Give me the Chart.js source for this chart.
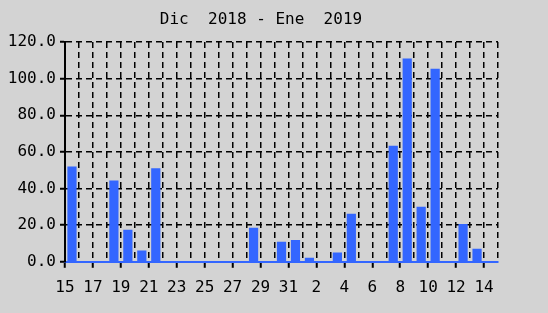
<!DOCTYPE html>
<html>
<head>
<meta charset="utf-8">
<script src="https://cdn.jsdelivr.net/npm/chart.js@4.4.1/dist/chart.umd.min.js"></script>
<style>
  html, body { margin: 0; padding: 0; background: #d3d3d3; }
  #wrap { width: 548px; height: 313px; position: relative; }
</style>
</head>
<body>
<div id="wrap"><canvas id="canvas"></canvas></div>
<script>
// dias del 15 dic 2018 al 14 ene 2019
const days = [15, 16, 17, 18, 19, 20, 21, 22, 23, 24, 25, 26, 27, 28, 29, 30, 31,
  1, 2, 3, 4, 5, 6, 7, 8, 9, 10, 11, 12, 13, 14];
const values = [52, 0, 0, 44.4, 17.5, 6.2, 51.1, 0, 0, 0, 0, 0, 0, 18.6, 0, 11, 11.9,
  2.2, 0, 5.1, 26.3, 0, 0, 63.4, 111, 30.1, 105.4, 0, 20.6, 7.1, 0];
const yTicks = [0, 20, 40, 60, 80, 100, 120];
const title = "Dic  2018 - Ene  2019";

const mono = "'DejaVu Sans Mono', monospace";
const blue = "#3366ff";

// el titulo va un poco a la izquierda del centro, como en la imagen original
const titlePlugin = {
  id: "titulo",
  afterDraw(chart) {
    const c = chart.ctx;
    c.save();
    c.font = "16px " + mono;
    c.fillStyle = "#000";
    c.textAlign = "center";
    c.textBaseline = "middle";
    c.fillText(title, 261, 20);
    c.restore();
  },
};

const ctx = document.getElementById("canvas").getContext("2d");
new Chart(ctx, {
  type: "bar",
  data: {
    labels: days.map(String),
    datasets: [
      {
        data: values,
        backgroundColor: blue,
        borderWidth: 0,
        barPercentage: 0.66,
        categoryPercentage: 1,
        xAxisID: "x",
      },
    ],
  },
  options: {
    responsive: true,
    maintainAspectRatio: false,
    devicePixelRatio: 1,
    animation: false,
    layout: { padding: { left: 6, right: 50, top: 42, bottom: 6 } },
    scales: {
      x: { type: "category", display: false, offset: true },
      x2: {
        type: "linear",
        position: "bottom",
        offset: false,
        min: 0,
        max: days.length,
        afterBuildTicks: (scale) => {
          scale.ticks = days.map((d, i) => ({ value: i })).concat([{ value: days.length }]);
        },
        grid: {
          offset: false,
          color: "#000",
          lineWidth: 1.5,
          tickLength: 6,
          tickWidth: 2,
          tickColor: (c) => (c.tick && c.tick.value % 2 === 0 && c.tick.value < days.length ? "#000" : "rgba(0,0,0,0)"),
        },
        border: { display: true, color: blue, width: 2, dash: [6, 4] },
        ticks: {
          autoSkip: false,
          maxRotation: 0,
          padding: 10,
          color: "#000",
          font: { family: mono, size: 16 },
          callback: (v) => (v % 2 === 0 && v < days.length ? String(days[v]) : ""),
        },
      },
      y: {
        min: 0,
        max: 120,
        afterBuildTicks: (scale) => {
          scale.ticks = yTicks.map((v) => ({ value: v }));
        },
        afterFit: (scale) => {
          scale.width = 59;
        },
        grid: {
          color: "#000",
          lineWidth: 1.5,
          tickLength: 5,
          tickWidth: 2,
          tickColor: "#000",
        },
        border: { display: true, color: "#000", width: 2, dash: [6, 4] },
        ticks: {
          padding: 4,
          color: "#000",
          font: { family: mono, size: 16 },
          callback: (v) => v.toFixed(1),
        },
      },
    },
    plugins: {
      legend: { display: false },
      tooltip: { enabled: false },
      title: { display: false },
    },
  },
  plugins: [titlePlugin],
});
</script>
</body>
</html>
